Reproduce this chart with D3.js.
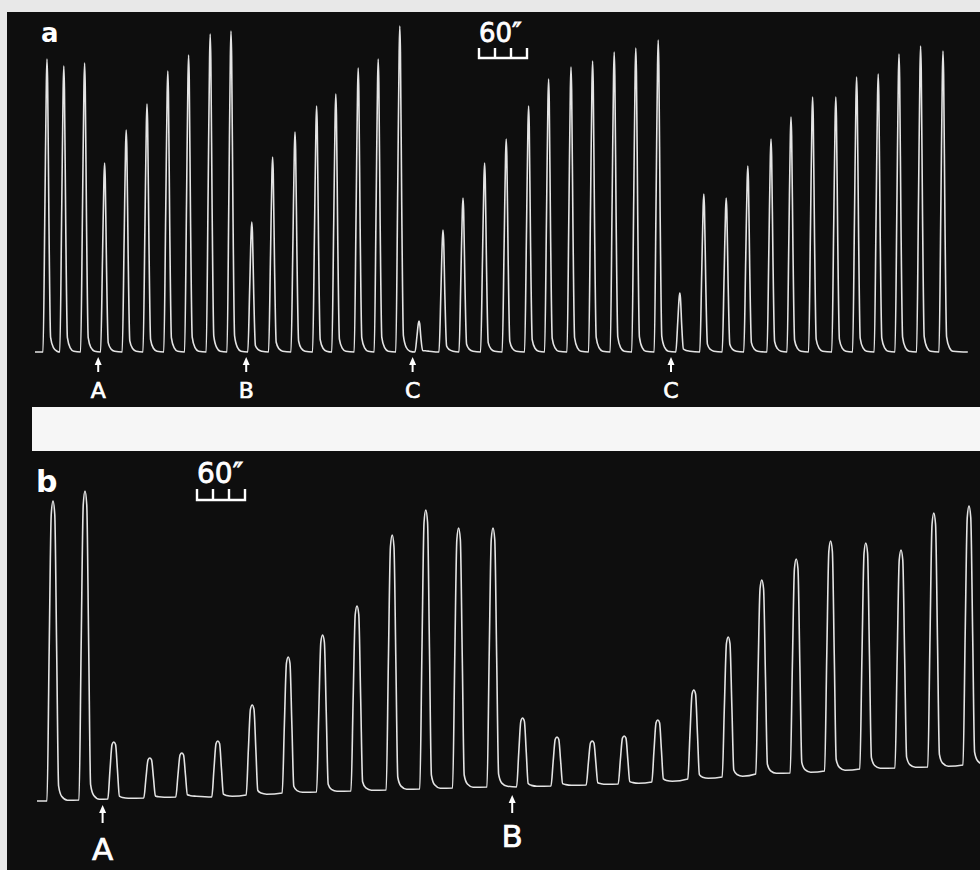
<!DOCTYPE html>
<html><head><meta charset="utf-8">
<script src="https://cdn.jsdelivr.net/npm/d3@7"></script>
<style>body{margin:0;background:#e8e8e8}svg{display:block}</style>
</head><body><svg id="c" width="980" height="870"></svg>
<script>
// ---- Panel a: contraction peaks (time in s, amplitude in arbitrary units) ----
const aTimes = [15,36,62,87,114,140,166,192,219,245,271,297,325,352,376,404,429,456,480,510,535,562,589,617,642,670,697,724,751,779,806,836,864,891,920,945,972,1001,1027,1054,1080,1107,1135];
const aAmps  = [293,286,289,189,222,248,281,297,318,321,130,195,220,246,258,284,293,326,31,122,154,189,213,246,273,285,291,300,304,312,59,158,154,186,213,235,255,255,275,278,298,306,301];
const aMarkerLabels = ["A","B","C","C"];
const aMarkerTimes  = [79,264,472,795];
const aEnd = 1166;
const aScaleStart = 555;

// ---- Panel b ----
const bTimes = [20,60,96,141,181,226,269,314,357,400,444,486,527,570,607,650,694,734,776,821,864,906,949,992,1036,1080,1121,1165];
const bAmps  = [300,309,57,40,44,56,90,136,157,185,255,279,260,259,69,49,44,48,62,89,140,194,214,230,226,218,254,259];
const bDrift = [0,1,2,3,4,4,6,8,9,10,11,12,13,14,14,15,16,17,19,22,24,27,28,30,32,33,34,36];
const bMarkerLabels = ["A","B"];
const bMarkerTimes  = [82,594];
const bEnd = 1179;
const bScaleStart = 200;

const scaleTicks = [0,20,40,60];
const scaleLabel = "60\u2033";

const svg = d3.select("#c");
const INK = "#e4e4e4";

// background
svg.append("rect").attr("x",0).attr("y",0).attr("width",980).attr("height",870).attr("fill","#e8e8e8");
svg.append("rect").attr("x",7).attr("y",12).attr("width",973).attr("height",858).attr("fill","#0e0e0e");
svg.append("rect").attr("x",32).attr("y",407).attr("width",948).attr("height",44).attr("fill","#f6f6f6");

// pulse shape: [time offset (s), fraction of amplitude]
const shapeA = [[-5,0],[-2.6,0.5],[-0.8,0.92],[0,1],[0.8,0.92],[2.4,0.45],[4.5,0.05],[8,0.012],[12.5,0]];
const shapeB = [[-7.5,0],[-4.8,0.5],[-2.2,0.955],[0,1],[2.2,0.955],[4.6,0.5],[7,0.05],[11,0.012],[18,0]];

function drawPanel(cfg){
  const x = d3.scaleLinear().domain([0, cfg.end]).range([cfg.x0, cfg.x0 + cfg.end*0.8]);
  const y = d3.scaleLinear().domain([0, 330]).range([cfg.yBase, cfg.yBase - 330]);
  const baseAt = i => cfg.drift ? cfg.drift[i] : 0;
  const pts = [[0, baseAt(0)]];
  cfg.times.forEach((t,i)=>{
    const base = baseAt(i);
    cfg.shape.forEach(([dt,f],k)=>{
      const lift = (k >= cfg.shape.length-2) ? 0.8 : 0;
      pts.push([t + dt, base + f*cfg.amps[i] + lift]);
    });
  });
  pts.push([cfg.end, baseAt(cfg.times.length-1)]);
  const line = d3.line().x(d=>x(d[0])).y(d=>y(d[1])).curve(d3.curveMonotoneX);
  svg.append("path").attr("d", line(pts)).attr("fill","none")
    .attr("stroke", INK).attr("stroke-width", cfg.sw).attr("stroke-linejoin","round");

  // markers
  const g = svg.append("g");
  cfg.mLabels.forEach((lab,i)=>{
    const mx = x(cfg.mTimes[i]);
    const tip = cfg.arrowTip[i];
    g.append("line").attr("x1",mx).attr("x2",mx).attr("y1",tip+4).attr("y2",tip+cfg.arrowLen)
      .attr("stroke","#fff").attr("stroke-width",2);
    g.append("path").attr("d",`M${mx},${tip} L${mx-3.5},${tip+8} L${mx+3.5},${tip+8} Z`).attr("fill","#fff");
    g.append("text").attr("x",mx).attr("y",cfg.letterY[i]).attr("text-anchor","middle")
      .attr("fill","#fff").attr("stroke","#fff").attr("stroke-width",0.7)
      .attr("font-family","DejaVu Sans, sans-serif")
      .attr("font-size",cfg.letterSize).text(lab);
  });

  // scale bar
  const sx = scaleTicks.map(s=>x(cfg.scaleStart + s));
  let d = `M${sx[0]},${cfg.barTop} V${cfg.barBot} H${sx[sx.length-1]} V${cfg.barTop}`;
  sx.slice(1,-1).forEach(v=>{ d += ` M${v},${cfg.barBot} V${cfg.barTop}`; });
  svg.append("path").attr("d",d).attr("fill","none").attr("stroke","#fff").attr("stroke-width",2.4);
  svg.append("text").attr("x",sx[0]).attr("y",cfg.barTop-6).attr("fill","#fff")
    .attr("stroke","#fff").attr("stroke-width",0.8)
    .attr("font-family","DejaVu Sans, sans-serif").attr("font-size",cfg.scaleFont).text(scaleLabel);

  // panel letter
  svg.append("text").attr("x",cfg.letterX).attr("y",cfg.panelLetterY).attr("fill","#fff")
    .attr("font-family","DejaVu Sans, sans-serif").attr("font-weight","bold")
    .attr("font-size",cfg.panelLetterSize).text(cfg.name);
}

drawPanel({name:"a", times:aTimes, amps:aAmps, drift:null, end:aEnd, x0:35, yBase:352,
  shape:shapeA, sw:1.6,
  mLabels:aMarkerLabels, mTimes:aMarkerTimes, arrowTip:[357,357,357,357], arrowLen:15,
  letterY:[398,398,398,398], letterSize:22,
  scaleStart:aScaleStart, barTop:48, barBot:58, scaleFont:26,
  letterX:41, panelLetterY:42, panelLetterSize:26});

drawPanel({name:"b", times:bTimes, amps:bAmps, drift:bDrift, end:bEnd, x0:37, yBase:801,
  shape:shapeB, sw:1.6,
  mLabels:bMarkerLabels, mTimes:bMarkerTimes, arrowTip:[805,795], arrowLen:18,
  letterY:[860,847], letterSize:31,
  scaleStart:bScaleStart, barTop:489, barBot:500, scaleFont:28,
  letterX:36, panelLetterY:492, panelLetterSize:30});
</script></body></html>
